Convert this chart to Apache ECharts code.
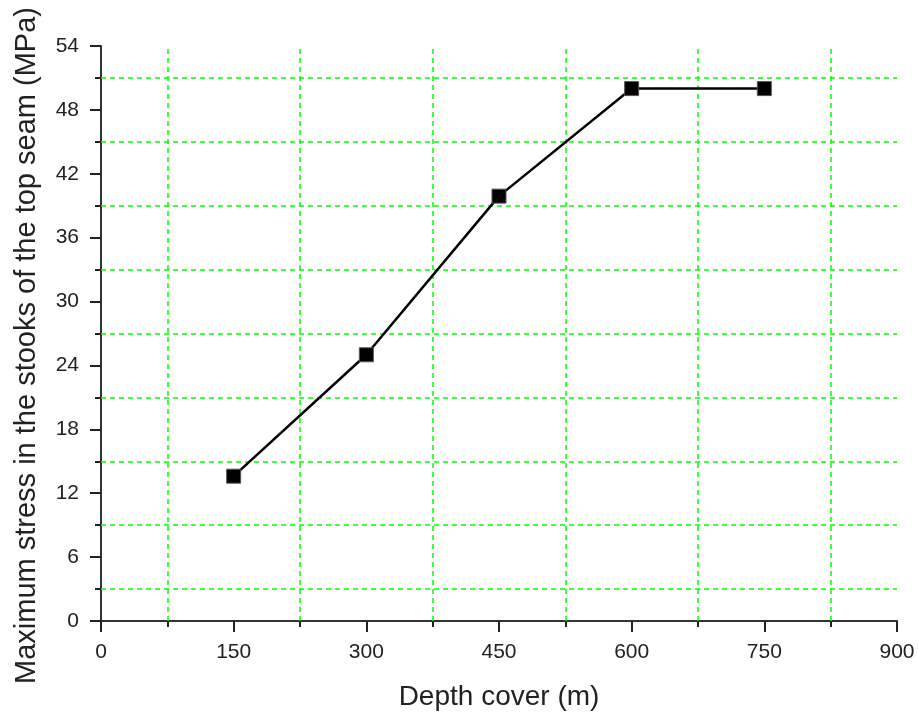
<!DOCTYPE html>
<html>
<head>
<meta charset="utf-8">
<script src="https://cdn.jsdelivr.net/npm/echarts@6/dist/echarts.min.js"></script>
<style>
  html, body { margin: 0; padding: 0; background: #fff; }
  #chart { width: 918px; height: 718px; }
</style>
</head>
<body>
<div id="chart"></div>
<script>
// data
var depth = [150, 300, 450, 600, 750];
var stress = [13.6, 25, 39.9, 50, 50];
// green dashed grid sits on the minor ticks
var gridX = [75, 225, 375, 525, 675, 825];
var gridY = [3, 9, 15, 21, 27, 33, 39, 45, 51];

var myChart = echarts.init(document.getElementById('chart'));

var gridLines = gridX.map(function (v) { return { xAxis: v }; })
    .concat(gridY.map(function (v) { return { yAxis: v }; }));

var option = {
    backgroundColor: '#fff',
    animation: false,
    grid: {
        left: 101,
        right: 21,
        top: 46,
        bottom: 97
    },
    xAxis: {
        type: 'value',
        min: 0,
        max: 900,
        interval: 150,
        name: 'Depth cover (m)',
        nameLocation: 'middle',
        nameGap: 62,
        nameTextStyle: { fontFamily: 'Liberation Sans', fontSize: 28, color: '#222' },
        axisLine: { show: true, onZero: false, lineStyle: { color: '#333', width: 2 } },
        axisTick: { show: true, inside: false, length: 11, lineStyle: { color: '#222', width: 2 } },
        minorTick: { show: true, splitNumber: 2, length: 6, lineStyle: { color: '#222', width: 2 } },
        axisLabel: { fontFamily: 'Liberation Sans', fontSize: 21, color: '#222', margin: 21 },
        splitLine: { show: false }
    },
    yAxis: {
        type: 'value',
        min: 0,
        max: 54,
        interval: 6,
        name: 'Maximum stress in the stooks of the top seam (MPa)',
        nameLocation: 'middle',
        nameGap: 60,
        nameRotate: 90,
        nameTextStyle: { fontFamily: 'Liberation Sans', fontSize: 29, color: '#222', padding: [0, 24, 0, 0] },
        axisLine: { show: true, onZero: false, lineStyle: { color: '#333', width: 2 } },
        axisTick: { show: true, inside: false, length: 11, lineStyle: { color: '#222', width: 2 } },
        minorTick: { show: true, splitNumber: 2, length: 6, lineStyle: { color: '#222', width: 2 } },
        axisLabel: { fontFamily: 'Liberation Sans', fontSize: 21, color: '#222', margin: 22 },
        splitLine: { show: false }
    },
    series: [
        {
            type: 'line',
            data: depth.map(function (d, i) { return [d, stress[i]]; }),
            symbol: 'rect',
            symbolSize: 14,
            itemStyle: { color: '#000', borderColor: '#555', borderWidth: 1 },
            lineStyle: { color: '#000', width: 2.5 },
            z: 5,
            markLine: {
                silent: true,
                symbol: ['none', 'none'],
                label: { show: false },
                lineStyle: { color: '#00ff00', type: [5, 4], width: 1.5, opacity: 1 },
                emphasis: { disabled: true },
                z: 1,
                data: gridLines
            }
        }
    ]
};

myChart.setOption(option);
</script>
</body>
</html>
